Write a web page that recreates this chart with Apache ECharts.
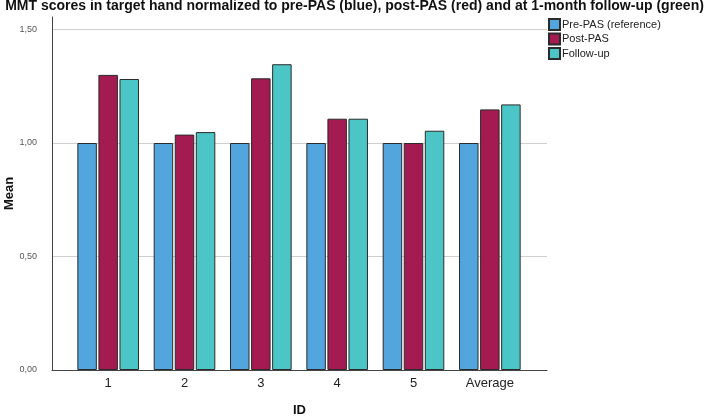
<!DOCTYPE html>
<html>
<head>
<meta charset="utf-8">
<script src="https://cdn.jsdelivr.net/npm/echarts@6/dist/echarts.min.js"></script>
<style>html,body{margin:0;padding:0;background:#fff;}#c{width:709px;height:416px;}</style>
</head>
<body>
<div id="c"></div>
<script>
const categories = ['1', '2', '3', '4', '5', 'Average'];
const prePAS = [1.00, 1.00, 1.00, 1.00, 1.00, 1.00];
const postPAS = [1.30, 1.037, 1.285, 1.107, 1.00, 1.148];
const followUp = [1.282, 1.048, 1.347, 1.107, 1.054, 1.170];
const seriesNames = ['Pre-PAS (reference)', 'Post-PAS', 'Follow-up'];
const yTicks = [0, 0.5, 1.0, 1.5];

const colors = ['#52a6dd', '#a31b50', '#4bc5c6'];
const font = '"Liberation Sans", Arial, sans-serif';
const chart = echarts.init(document.getElementById('c'));

function barSeries(name, data, color) {
  return {
    name: name, type: 'bar', xAxisIndex: 2, yAxisIndex: 2, data: data,
    barWidth: 19.5, barGap: '8%',
    itemStyle: { color: color, borderColor: '#2b2b2b', borderWidth: 1 }
  };
}

chart.setOption({
  animation: false,
  textStyle: { fontFamily: font },
  title: {
    text: 'MMT scores in target hand normalized to pre-PAS (blue), post-PAS (red) and at 1-month follow-up (green)',
    left: 'center', top: -1, padding: 0,
    textStyle: { fontFamily: font, fontSize: 14, fontWeight: 'bold', color: '#111' }
  },
  legend: {
    orient: 'vertical', left: 548, top: 18, padding: 0,
    itemWidth: 11, itemHeight: 11, itemGap: 1.5,
    icon: 'rect',
    textStyle: { fontFamily: font, fontSize: 11, color: '#222', padding: [0, 0, 0, -3] },
    data: seriesNames
  },
  grid: [
    { left: 52, top: 17, width: 495, height: 353, outerBoundsMode: 'none', containLabel: false },
    { left: 52, top: 29.5, width: 495, height: 340.5, outerBoundsMode: 'none', containLabel: false },
    { left: 70, top: 29.5, width: 458, height: 340.5, outerBoundsMode: 'none', containLabel: false }
  ],
  xAxis: [
    { gridIndex: 0, type: 'value', min: 0, max: 1,
      axisLine: { show: true, onZero: false, lineStyle: { color: '#444', width: 1 } },
      axisTick: { show: false }, axisLabel: { show: false }, splitLine: { show: false },
      name: 'ID', nameLocation: 'middle', nameGap: 34,
      nameTextStyle: { fontFamily: font, fontSize: 13, fontWeight: 'bold', color: '#111' } },
    { gridIndex: 1, type: 'value', min: 0, max: 1, show: false },
    { gridIndex: 2, type: 'category', data: categories,
      axisLine: { show: false }, axisTick: { show: false },
      axisLabel: { fontFamily: font, fontSize: 13, color: '#222', margin: 7 } }
  ],
  yAxis: [
    { gridIndex: 0, type: 'value', min: 0, max: 1,
      axisLine: { show: true, onZero: false, lineStyle: { color: '#444', width: 1 } },
      axisTick: { show: false }, axisLabel: { show: false }, splitLine: { show: false },
      name: 'Mean', nameLocation: 'middle', nameGap: 36, nameRotate: 90,
      nameTextStyle: { fontFamily: font, fontSize: 13, fontWeight: 'bold', color: '#111' } },
    { gridIndex: 1, type: 'value', min: yTicks[0], max: yTicks[yTicks.length - 1], interval: 0.5,
      axisLine: { show: false }, axisTick: { show: false },
      axisLabel: { fontFamily: font, fontSize: 9, color: '#555', margin: 15,
        formatter: v => v.toFixed(2).replace('.', ',') },
      splitLine: { show: true, lineStyle: { color: '#cfcfcf', width: 1 } } },
    { gridIndex: 2, type: 'value', min: yTicks[0], max: yTicks[yTicks.length - 1], show: false }
  ],
  series: [
    barSeries(seriesNames[0], prePAS, colors[0]),
    barSeries(seriesNames[1], postPAS, colors[1]),
    barSeries(seriesNames[2], followUp, colors[2])
  ]
});
</script>
</body>
</html>
